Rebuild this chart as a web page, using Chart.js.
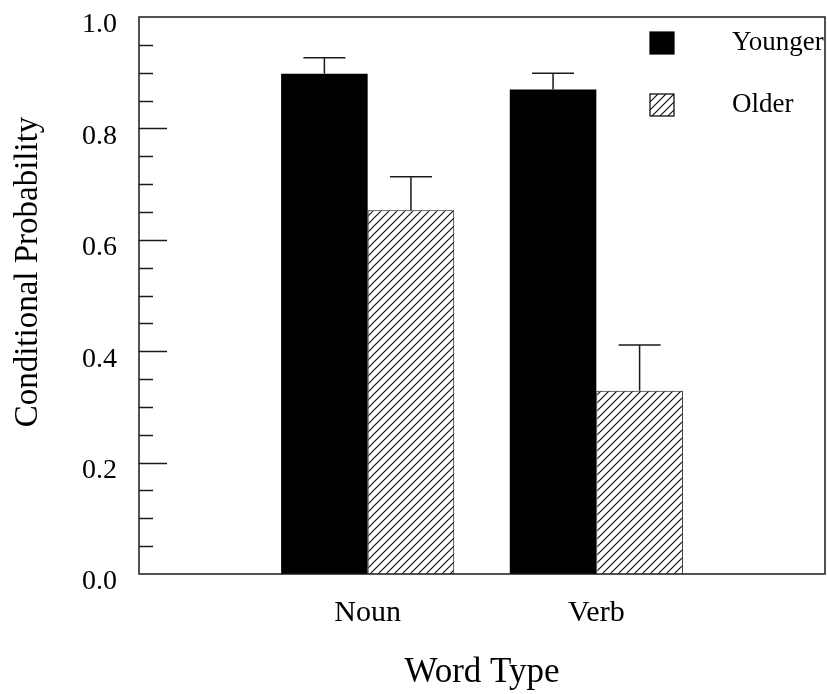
<!DOCTYPE html>
<html><head><meta charset="utf-8">
<script src="https://cdn.jsdelivr.net/npm/chart.js@4/dist/chart.umd.min.js"></script>
<style>html,body{margin:0;padding:0;background:#fff}#wrap{width:827px;height:694px}</style>
</head><body><div id="wrap"><canvas id="c" width="827" height="694"></canvas></div>
<script>
const categories = ['Noun', 'Verb'];
const seriesNames = ['Younger', 'Older'];
const youngerValues = [0.898, 0.870];
const olderValues = [0.653, 0.329];
const youngerErrors = [0.029, 0.029];
const olderErrors = [0.060, 0.082];
const yTickLabels = ['0.0', '0.2', '0.4', '0.6', '0.8', '1.0'];
const xTitle = 'Word Type';
const yTitle = 'Conditional Probability';

const FONT = '"Liberation Serif", "Times New Roman", serif';
const canvas = document.getElementById('c');
const ctx0 = canvas.getContext('2d');

function makeHatch() {
  const s = 8;
  const c = document.createElement('canvas');
  c.width = s; c.height = s;
  const g = c.getContext('2d');
  g.fillStyle = '#fff'; g.fillRect(0, 0, s, s);
  g.strokeStyle = '#111'; g.lineWidth = 1.2;
  g.beginPath();
  g.moveTo(-1, s + 1); g.lineTo(s + 1, -1);
  g.moveTo(-1, 1); g.lineTo(1, -1);
  g.moveTo(s - 1, s + 1); g.lineTo(s + 1, s - 1);
  g.stroke();
  return ctx0.createPattern(c, 'repeat');
}
const hatch = makeHatch();

const pad = arr => [null, ...arr, null];
const labels = ['', ...categories, ''];
const errs = [pad(youngerErrors), pad(olderErrors)];

const overlay = {
  id: 'overlay',
  afterDatasetsDraw(chart) {
    const ctx = chart.ctx;
    const ys = chart.scales.y;
    const a = chart.chartArea;
    ctx.save();
    // error bars
    ctx.strokeStyle = '#1a1a1a';
    ctx.lineWidth = 1.5;
    chart.data.datasets.forEach((ds, i) => {
      const meta = chart.getDatasetMeta(i);
      meta.data.forEach((el, j) => {
        const v = ds.data[j];
        if (v === null || v === undefined) return;
        const top = ys.getPixelForValue(v + errs[i][j]);
        ctx.beginPath();
        ctx.moveTo(el.x, el.y);
        ctx.lineTo(el.x, top);
        ctx.moveTo(el.x - 21, top);
        ctx.lineTo(el.x + 21, top);
        ctx.stroke();
      });
    });
    // frame
    ctx.strokeStyle = '#1a1a1a';
    ctx.lineWidth = 1.5;
    ctx.strokeRect(a.left, a.top, a.right - a.left, a.bottom - a.top);
    // inside ticks
    ys.ticks.forEach(t => {
      const v = t.value;
      if (v <= 0.001 || v >= 0.999) return;
      const major = Math.abs(v / 0.2 - Math.round(v / 0.2)) < 1e-6;
      const y = Math.round(ys.getPixelForValue(v)) + 0.5;
      ctx.beginPath();
      ctx.moveTo(a.left, y);
      ctx.lineTo(a.left + (major ? 28 : 14), y);
      ctx.stroke();
    });
    // legend
    const bx = a.right - 175, tx = a.right - 93;
    const rows = [43, 105];
    chart.data.datasets.forEach((ds, i) => {
      const cy = rows[i];
      ctx.fillStyle = ds.backgroundColor;
      ctx.fillRect(bx, cy - 11, 24, 22);
      ctx.lineWidth = 1.2;
      ctx.strokeStyle = '#000';
      ctx.strokeRect(bx, cy - 11, 24, 22);
      ctx.fillStyle = '#000';
      ctx.font = '27px ' + FONT;
      ctx.textBaseline = 'middle';
      ctx.textAlign = 'left';
      ctx.fillText(ds.label, tx, cy);
    });
    // y-axis title
    ctx.save();
    ctx.translate(28, 272);
    ctx.rotate(-Math.PI / 2);
    ctx.font = '33px ' + FONT;
    ctx.fillStyle = '#000';
    ctx.textAlign = 'center';
    ctx.textBaseline = 'middle';
    ctx.fillText(yTitle, 0, 0);
    ctx.restore();
    ctx.restore();
  }
};

new Chart(canvas, {
  type: 'bar',
  data: {
    labels: labels,
    datasets: [
      { label: seriesNames[0], data: pad(youngerValues), backgroundColor: '#000', borderColor: '#000', borderWidth: 0 },
      { label: seriesNames[1], data: pad(olderValues), backgroundColor: hatch, borderColor: '#111', borderWidth: 1 }
    ]
  },
  options: {
    responsive: false,
    devicePixelRatio: 1,
    animation: false,
    layout: { padding: { top: 17, right: 2, left: 0, bottom: 0 } },
    categoryPercentage: 0.757,
    barPercentage: 1.0,
    plugins: { legend: { display: false }, tooltip: { enabled: false } },
    scales: {
      x: {
        type: 'category', offset: false,
        grid: { display: false, drawTicks: false }, border: { display: false },
        ticks: { font: { family: FONT, size: 30 }, color: '#000', padding: 21, maxRotation: 0, autoSkip: false },
        title: { display: true, text: xTitle, font: { family: FONT, size: 35 }, color: '#000', padding: { top: 0, bottom: 0 } },
        afterFit: s => { s.height = 120; s.paddingLeft = 0; s.paddingRight = 0; }
      },
      y: {
        min: 0, max: 1,
        grid: { display: false, drawTicks: false }, border: { display: false },
        ticks: {
          stepSize: 0.05, autoSkip: false, padding: 22, labelOffset: 8,
          font: { family: FONT, size: 28 }, color: '#000',
          callback: v => {
            const k = Math.round(v / 0.2);
            return Math.abs(v / 0.2 - k) < 1e-6 ? yTickLabels[k] : '';
          }
        },
        title: { display: false },
        afterFit: s => { s.width = 139; s.paddingTop = 0; s.paddingBottom = 0; }
      }
    }
  },
  plugins: [overlay]
});
</script>
</body></html>
